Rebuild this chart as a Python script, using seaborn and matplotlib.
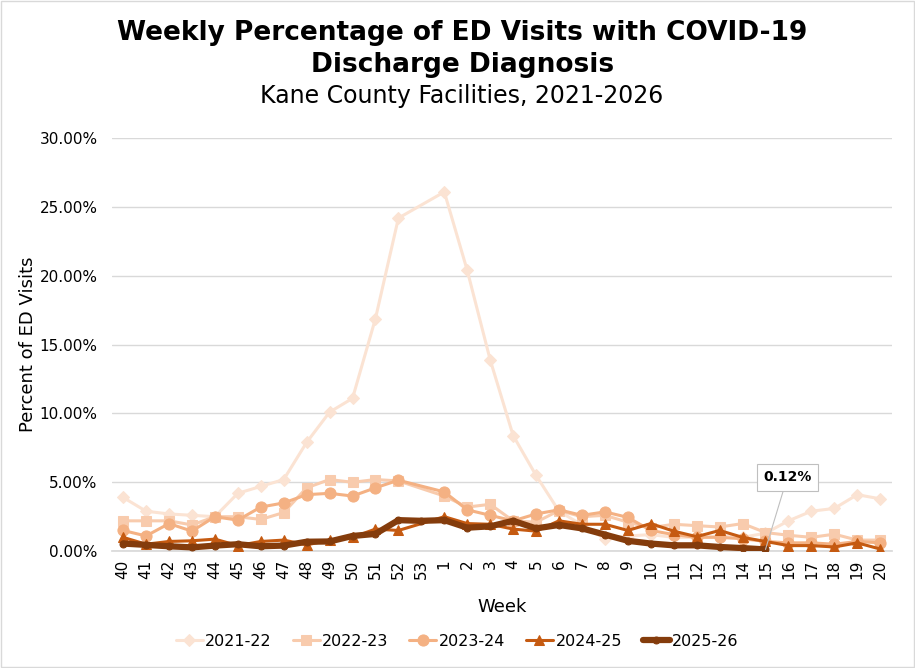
import numpy as np
import pandas as pd
import matplotlib
matplotlib.use("Agg")
import matplotlib.pyplot as plt
import seaborn as sns
from matplotlib.patches import Rectangle

nan = np.nan

weeks = [40, 41, 42, 43, 44, 45, 46, 47, 48, 49, 50, 51, 52, 53,
         1, 2, 3, 4, 5, 6, 7, 8, 9, 10, 11, 12, 13, 14, 15, 16, 17, 18, 19, 20]

s2122 = [3.9, 2.9, 2.7, 2.6, 2.5, 4.2, 4.7, 5.2, 7.9, 10.1, 11.1, 16.9, 24.2, nan,
         26.1, 20.4, 13.9, 8.4, 5.5, 2.9, 1.9, 0.9, 1.1, 1.2, 1.0, 1.0, 1.1, 1.0, 1.3,
         2.2, 2.9, 3.1, 4.1, 3.8]
s2223 = [2.2, 2.2, 2.2, 1.9, 2.5, 2.5, 2.3, 2.8, 4.6, 5.2, 5.0, 5.2, 5.1, nan,
         4.0, 3.2, 3.4, 2.2, 2.1, 2.95, 2.5, 2.6, 2.1, 1.7, 1.95, 1.85, 1.75, 2.0, 1.35,
         1.15, 1.0, 1.23, 0.8, 0.8]
s2324 = [1.5, 1.1, 2.0, 1.45, 2.5, 2.25, 3.2, 3.5, 4.1, 4.2, 4.0, 4.6, 5.15, nan,
         4.3, 3.0, 2.6, 2.2, 2.7, 3.0, 2.6, 2.85, 2.45, 1.5, 1.2, 1.0, 1.0, 0.9, 0.7,
         0.6, 0.6, 0.5, 0.7, 0.6]
s2425 = [1.0, 0.5, 0.7, 0.75, 0.87, 0.4, 0.7, 0.8, 0.45, 0.8, 1.0, 1.6, 1.5, nan,
         2.5, 2.0, 1.95, 1.6, 1.45, 2.2, 1.95, 1.95, 1.5, 2.0, 1.45, 1.05, 1.5, 1.0, 0.7,
         0.4, 0.4, 0.3, 0.6, 0.15]
s2526 = [0.55, 0.45, 0.35, 0.27, 0.4, 0.5, 0.35, 0.4, 0.68, 0.7, 1.1, 1.25, 2.25, 2.2,
         2.25, 1.7, 1.8, 2.2, 1.65, 1.9, 1.65, 1.2, 0.75, 0.55, 0.42, 0.42, 0.3, 0.22, 0.12,
         nan, nan, nan, nan, nan]

seasons = ["2021-22", "2022-23", "2023-24", "2024-25", "2025-26"]
values = [s2122, s2223, s2324, s2425, s2526]
colors = ["#FBE3D3", "#F8CBAD", "#F4B183", "#C55A11", "#843C0C"]
markers = ["D", "s", "o", "^", "o"]
msizes = [6, 7.5, 8, 7.5, 5]
lwidths = [2.2, 2.2, 2.2, 2.2, 4.5]

sns.set_theme(style="white")
plt.rcParams["font.family"] = ["DejaVu Sans"]
plt.rcParams["text.color"] = "black"
plt.rcParams["axes.labelcolor"] = "black"
plt.rcParams["xtick.color"] = "black"
plt.rcParams["ytick.color"] = "black"

fig = plt.figure(figsize=(9.15, 6.68), dpi=100)
ax = fig.add_axes([0.122, 0.175, 0.8525, 0.618])

pos = np.arange(len(weeks))
for name, vals, c, m, ms, lw in zip(seasons, values, colors, markers, msizes, lwidths):
    df = pd.DataFrame({"pos": pos, "pct": vals}).dropna()
    sns.lineplot(data=df, x="pos", y="pct", ax=ax, color=c, marker=m,
                 markersize=ms, markeredgecolor=c, markerfacecolor=c,
                 linewidth=lw, label=name, zorder=3)

ax.set_xlim(-0.5, len(weeks) - 0.5)
ax.set_ylim(0, 30)
ax.set_yticks(np.arange(0, 31, 5))
ax.set_yticklabels([f"{v:.2f}%" for v in np.arange(0, 31, 5)], fontsize=11)
ax.set_xticks(pos)
ax.set_xticklabels([str(w) for w in weeks], rotation=90, fontsize=11)
ax.tick_params(axis="y", length=0, pad=10)
ax.tick_params(axis="x", length=0, pad=6)
ax.grid(axis="y", color="#D9D9D9", linewidth=1)
ax.set_axisbelow(True)
for s in ["top", "right", "left"]:
    ax.spines[s].set_visible(False)
ax.spines["bottom"].set_color("#D9D9D9")
ax.set_xlabel("Week", fontsize=13, labelpad=14)
ax.set_ylabel("Percent of ED Visits", fontsize=13, labelpad=2)

# callout for latest value
last_i = 28
ax.annotate(f"{s2526[last_i]:.2f}%", xy=(last_i, s2526[last_i]), xytext=(last_i + 0.95, 5.35),
            ha="center", va="center", fontsize=10, fontweight="bold", zorder=5,
            bbox=dict(boxstyle="square,pad=0.45", fc="white", ec="#BFBFBF", lw=0.8),
            arrowprops=dict(arrowstyle="-", color="#BFBFBF", lw=0.8, shrinkA=0, shrinkB=0))

ax.legend(loc="center", bbox_to_anchor=(0.443, -0.218), ncol=5, frameon=False,
          fontsize=11.5, handlelength=1.7, columnspacing=1.3, handletextpad=0.15)

fig.text(0.505, 0.951, "Weekly Percentage of ED Visits with COVID-19", ha="center", va="center",
         fontsize=19, fontweight="bold")
fig.text(0.505, 0.903, "Discharge Diagnosis", ha="center", va="center",
         fontsize=19, fontweight="bold")
fig.text(0.505, 0.856, "Kane County Facilities, 2021-2026", ha="center", va="center",
         fontsize=17)

fig.patches.append(Rectangle((0.001, 0.001), 0.998, 0.998, transform=fig.transFigure,
                             fill=False, edgecolor="#D9D9D9", linewidth=1))

fig.savefig("out.png", dpi=100)
